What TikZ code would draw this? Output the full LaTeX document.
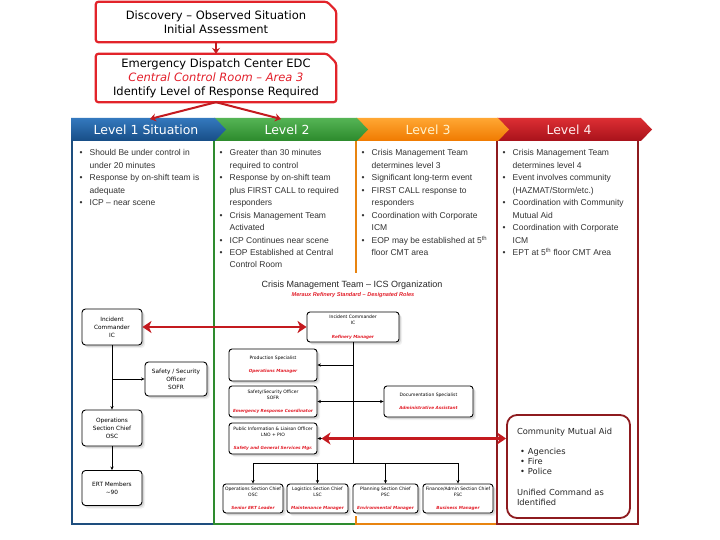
\documentclass[tikz,border=0pt]{standalone}
\usepackage{fontspec}
\setmainfont{DejaVu Sans}
\newfontfamily\arialf{Liberation Sans}
\usetikzlibrary{arrows.meta,shadows,calc}
\definecolor{topred}{HTML}{E2232A}
\definecolor{arrred}{HTML}{C41A1F}
\definecolor{txtred}{HTML}{E3202B}
\definecolor{colblue}{HTML}{1E4E7E}
\definecolor{colgreen}{HTML}{2E8B2E}
\definecolor{colorange}{HTML}{E88410}
\definecolor{coldred}{HTML}{8E1B1F}
\definecolor{coltext}{HTML}{333333}
\definecolor{lvAt}{HTML}{3479BE}\definecolor{lvAb}{HTML}{174D86}
\definecolor{lvBt}{HTML}{55B455}\definecolor{lvBb}{HTML}{2C8A2C}
\definecolor{lvCt}{HTML}{FFA733}\definecolor{lvCb}{HTML}{F07A00}
\definecolor{lvDt}{HTML}{DD2E33}\definecolor{lvDb}{HTML}{A8121B}
\newcommand{\colbul}{\makebox[10pt][l]{\textbullet}}
\newcommand{\colind}{\hspace*{10pt}}
\newcommand{\redrole}[1]{{\color{txtred}\bfseries\itshape\fontsize{4.2}{6}\selectfont #1}}
\begin{document}
\begin{tikzpicture}[x=1pt,y=-1pt,
  softshadow/.style={drop shadow={opacity=0.12,shadow xshift=3pt,shadow yshift=-3pt},drop shadow={opacity=0.22,shadow xshift=1.8pt,shadow yshift=-1.8pt}},
  topbox/.style={minimum width=240pt,align=center,inner sep=0pt,font=\fontsize{11.5}{14}\selectfont},
  topframe/.style={draw=topred,line width=2.2pt,rounded corners=2.5pt},
  toparrow/.style={draw=arrred,line width=2pt,arrows={-Stealth[length=6pt,width=8pt,inset=2pt]}},
  lvltext/.style={font=\fontsize{12.5}{14}\selectfont,inner sep=0pt},
  coltxt/.style={anchor=north west,align=left,inner sep=0pt,text=coltext,font=\arialf\fontsize{8.5}{12.44}\selectfont},
  leftbox/.style={draw=black,line width=0.9pt,rounded corners=3.5pt,fill=white,align=center,inner sep=0pt,font=\fontsize{5.8}{8}\selectfont,softshadow},
  icsbox/.style={draw=black,line width=0.9pt,rounded corners=3pt,fill=white,align=center,inner sep=0pt,font=\fontsize{4.5}{6}\selectfont,softshadow},
  blk/.style={draw=black,line width=0.8pt},
  blkarrow/.style={blk,arrows={-Stealth[length=3.5pt,width=3.2pt]}},
  blkdouble/.style={blk,arrows={Stealth[length=3.5pt,width=3.2pt]-Stealth[length=3.5pt,width=3.2pt]}},
  redarr/.style={draw=arrred,line width=2.8pt,arrows={Stealth[length=9pt,width=12pt,inset=2.5pt]-Stealth[length=9pt,width=12pt,inset=2.5pt]}},
]
\fill[white] (0,0) rectangle (720,540);
\path[use as bounding box] (0,0) rectangle (720,540);

% ---- top boxes
\node[topbox,minimum height=40pt] (disc) at (216,22) {Discovery – Observed Situation\\Initial Assessment};
\draw[topframe] (disc.north west) -- ($(disc.north east)+(-9,0)$) -- ($(disc.north east)+(0,9)$) -- (disc.south east) -- (disc.south west) -- cycle;
\node[topbox,minimum height=48pt] (edc) at (216,78) {Emergency Dispatch Center EDC\\{\color{txtred}\itshape Central Control Room – Area 3}\\Identify Level of Response Required};
\draw[topframe] (edc.north west) -- ($(edc.north east)+(-9,0)$) -- ($(edc.north east)+(0,9)$) -- (edc.south east) -- (edc.south west) -- cycle;

% ---- banner
\shade[top color=lvDt,bottom color=lvDb] (497,118) -- (641,118) -- (652,129.5) -- (641,141) -- (497,141) -- cycle;
\shade[top color=lvCt,bottom color=lvCb] (356,118) -- (498,118) -- (509,129.5) -- (498,141) -- (356,141) -- cycle;
\shade[top color=lvBt,bottom color=lvBb] (214,118) -- (357,118) -- (368,129.5) -- (357,141) -- (214,141) -- cycle;
\shade[top color=lvAt,bottom color=lvAb] (71,118) -- (215,118) -- (226,129.5) -- (215,141) -- (71,141) -- cycle;
\node[lvltext,text=white] (lvl1) at (146,129.5) {Level 1 Situation};
\node[lvltext,text=white] (lvl2) at (287,129.5) {Level 2};
\node[lvltext,text={rgb,255:red,255;green,243;blue,205}] (lvl3) at (428,129.5) {Level 3};
\node[lvltext,text={rgb,255:red,255;green,236;blue,236}] (lvl4) at (569,129.5) {Level 4};

\coordinate (t1) at (150,119);
\coordinate (t2) at (281,119);
\draw[toparrow] (disc.south) -- (edc.north);
\draw[toparrow] (edc.south) -- (t1);
\draw[toparrow] (edc.south) -- (t2);

% ---- columns
\draw[colblue,line width=1.8pt] (72,141) -- (72,524) -- (214,524);
\draw[colgreen,line width=1.8pt] (214,141) -- (214,524) -- (356,524);
\draw[colorange,line width=1.8pt] (356,141) -- (356,524) -- (497,524);
\draw[coldred,line width=1.8pt] (497,141) -- (497,524) -- (638,524) -- (638,141);

\node[coltxt] (c1) at (79.5,149.6) {\colbul Should Be under control in\\
\colind under 20 minutes\\
\colbul Response by on-shift team is\\
\colind adequate\\
\colbul ICP – near scene};
\node[coltxt] (c2) at (219.5,149.6) {\colbul Greater than 30 minutes\\
\colind required to control\\
\colbul Response by on-shift team\\
\colind plus FIRST CALL to required\\
\colind responders\\
\colbul Crisis Management Team\\
\colind Activated\\
\colbul ICP Continues near scene\\
\colbul EOP Established at Central\\
\colind Control Room};
\node[coltxt] (c3) at (361.5,149.6) {\colbul Crisis Management Team\\
\colind determines level 3\\
\colbul Significant long-term event\\
\colbul FIRST CALL response to\\
\colind responders\\
\colbul Coordination with Corporate\\
\colind ICM\\
\colbul EOP may be established at 5\textsuperscript{th}\\
\colind floor CMT area};
\node[coltxt] (c4) at (502.5,149.6) {\colbul Crisis Management Team\\
\colind determines level 4\\
\colbul Event involves community\\
\colind (HAZMAT/Storm/etc.)\\
\colbul Coordination with Community\\
\colind Mutual Aid\\
\colbul Coordination with Corporate\\
\colind ICM\\
\colbul EPT at 5\textsuperscript{th} floor CMT Area};

% ---- ICS panel
\fill[white] (221,273) rectangle (494,516);
\node[font=\arialf\fontsize{9}{11}\selectfont,text=black!85] (icstitle) at (352,285) {Crisis Management Team – ICS Organization};
\node[font=\arialf\bfseries\itshape\fontsize{5.6}{7}\selectfont,text=txtred] (icssub) at (353,295.5) {Meraux Refinery Standard – Designated Roles};

\node[icsbox,minimum width=92pt,minimum height=30pt] (iic) at (353,327) {Incident Commander\\IC\\[8pt]\redrole{Refinery Manager}};
\node[icsbox,minimum width=88pt,minimum height=32pt] (iprod) at (273,365) {Production Specialist\\[7pt]\redrole{Operations Manager}};
\node[icsbox,minimum width=88pt,minimum height=31pt] (isafe) at (273,401.5) {Safety/Security Officer\\SOFR\\[7pt]\redrole{Emergency Response Coordinator}};
\node[icsbox,minimum width=89pt,minimum height=31pt] (idoc) at (428.5,401.5) {Documentation Specialist\\[7pt]\redrole{Administrative Assistant}};
\node[icsbox,minimum width=88pt,minimum height=31pt] (ipio) at (273,438.5) {Public Information \& Liaison Officer\\LNO + PIO\\[7pt]\redrole{Safety and General Services Mgr.}};
\node[icsbox,minimum width=60pt,minimum height=29pt] (iosc) at (253,498.5) {Operations Section Chief\\OSC\\[7pt]\redrole{Senior ERT Leader}};
\node[icsbox,minimum width=61pt,minimum height=29pt] (ilsc) at (317.5,498.5) {Logistics Section Chief\\LSC\\[7pt]\redrole{Maintenance Manager}};
\node[icsbox,minimum width=65pt,minimum height=29pt] (ipsc) at (385.5,498.5) {Planning Section Chief\\PSC\\[7pt]\redrole{Environmental Manager}};
\node[icsbox,minimum width=70pt,minimum height=29pt] (ifsc) at (458,498.5) {Finance/Admin Section Chief\\FSC\\[7pt]\redrole{Business Manager}};

\coordinate (dist) at (353,463);
\draw[blk] (iic.south) -- (iic.south |- dist);
\draw[blkarrow] (iic.south |- iprod.east) -- (iprod.east);
\draw[blkarrow] (iic.south |- ipio.east) -- (ipio.east);
\draw[blkdouble] (isafe.east) -- (idoc.west);
\draw[blk] (iosc.north |- dist) -- (ifsc.north |- dist);
\foreach \b in {iosc,ilsc,ipsc,ifsc} \draw[blkarrow] (\b.north |- dist) -- (\b.north);

% ---- left column org
\node[leftbox,minimum width=60pt,minimum height=36pt] (lic) at (112,327) {Incident\\Commander\\IC};
\node[leftbox,minimum width=62pt,minimum height=34pt] (lsafe) at (176,379) {Safety / Security\\Officer\\SOFR};
\node[leftbox,minimum width=60pt,minimum height=36pt] (losc) at (112,428) {Operations\\Section Chief\\OSC};
\node[leftbox,minimum width=60pt,minimum height=35pt] (lert) at (112,488) {ERT Members\\\textasciitilde90};
\draw[blkarrow] (lic.south) -- (losc.north);
\draw[blkarrow] (lic.south |- lsafe.west) -- (lsafe.west);
\draw[blkarrow] (losc.south) -- (lert.north);

% ---- community mutual aid
\node[draw=coldred,line width=1.8pt,rounded corners=10pt,fill=white,minimum width=123pt,minimum height=103pt,text width=103pt,inner xsep=10pt,align=left,text=black!85,font=\fontsize{8.3}{10}\selectfont] (cma) at (568.5,466.5)
 {Community Mutual Aid\\[10pt]
 \hspace*{3pt}\makebox[8pt][l]{\textbullet}Agencies\\
 \hspace*{3pt}\makebox[8pt][l]{\textbullet}Fire\\
 \hspace*{3pt}\makebox[8pt][l]{\textbullet}Police\\[11pt]
 Unified Command as\\
 Identified};

% ---- red links
\draw[redarr] (lic.east) -- (iic.west);
\draw[redarr,shorten >=4pt] (cma.west |- ipio.east) -- (ipio.east);
\end{tikzpicture}
\end{document}
